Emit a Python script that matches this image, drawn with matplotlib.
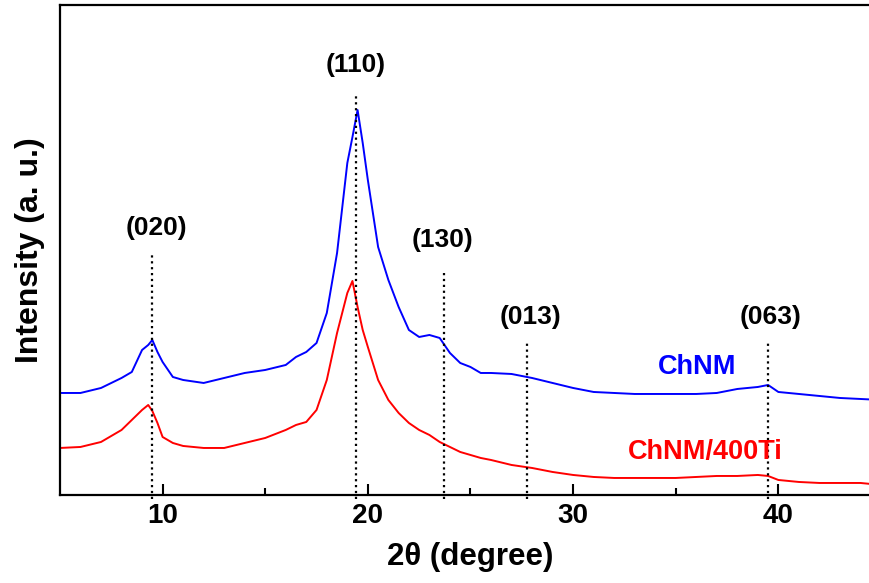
import numpy as np
import matplotlib
matplotlib.use('Agg')
import matplotlib.pyplot as plt

plt.rcParams['font.family'] = ['Liberation Sans', 'DejaVu Sans']
plt.rcParams['font.weight'] = 'bold'

# 2theta positions (degree) and intensities (a.u.) of the two patterns
two_theta = [5, 6, 7, 8, 8.5, 9, 9.3, 9.5, 9.75, 10, 10.5, 11, 12, 13, 14, 15, 16, 16.5,
             17, 17.5, 18, 18.5, 19, 19.25, 19.5, 19.75, 20, 20.5, 21, 21.5, 22, 22.5,
             23, 23.5, 24, 24.5, 25, 25.5, 26, 27, 28, 29, 30, 31, 32, 33, 34, 35, 36,
             37, 38, 39, 39.5, 40, 41, 42, 43, 44, 45]

chnm = [102, 102, 107, 117, 123, 145, 150, 155, 143, 133, 118, 115, 112, 117, 122, 125, 130, 138,
        143, 152, 182, 242, 332, 358, 385, 352, 315, 248, 215, 188, 165, 158,
        160, 157, 142, 132, 128, 122, 122, 121, 117, 112, 107, 103, 102, 101, 101, 101, 101,
        102, 106, 108, 110, 103, 101, 99, 97, 96, 95]

chnm_ti = [47, 48, 53, 65, 75, 85, 90, 84, 72, 58, 52, 49, 47, 47, 52, 57, 65, 70,
           73, 85, 115, 162, 202, 214, 188, 165, 148, 115, 95, 82, 72, 65,
           60, 53, 48, 43, 40, 37, 35, 30, 27, 23, 20, 18, 17, 17, 17, 17, 18,
           19, 19, 20, 19, 15, 13, 12, 12, 12, 10]

# reflections: label, marker position, top of the marker line, label position
planes = ['(020)', '(110)', '(130)', '(013)', '(063)']
plane_pos = [9.47, 19.42, 23.7, 27.75, 39.5]
plane_top = [240, 402, 225, 152, 152]
label_x = [9.72, 19.42, 23.66, 27.94, 39.63]
label_y = [267, 430, 255, 178, 178]

fig = plt.figure(figsize=(8.69, 5.83), dpi=100)
ax = fig.add_axes([0.069, 0.151, 0.9448, 0.8404])

ax.plot(two_theta, chnm, color='#0000FF', lw=1.4)
ax.plot(two_theta, chnm_ti, color='#FF0000', lw=1.4)

for lab, xp, top, lx, ly in zip(planes, plane_pos, plane_top, label_x, label_y):
    ax.plot([xp, xp], [-4, top], color='black', ls=':', lw=1.6, clip_on=False)
    ax.text(lx, ly, lab, ha='center', va='center', fontsize=19, fontweight='bold')

ax.text(36.03, 128, 'ChNM', color='#0000FF', ha='center', va='center',
        fontsize=19.5, fontweight='bold')
ax.text(36.42, 43, 'ChNM/400Ti', color='#FF0000', ha='center', va='center',
        fontsize=19.5, fontweight='bold')

ax.set_xlim(5, 45)
ax.set_ylim(0, 490)
ax.set_xticks([10, 20, 30, 40])
ax.set_xticks([15, 25, 35], minor=True)
ax.set_yticks([])
ax.tick_params(axis='x', which='major', direction='in', length=8, width=1.5,
               labelsize=20, pad=6)
ax.tick_params(axis='x', which='minor', direction='in', length=5, width=1.5)
for s in ax.spines.values():
    s.set_linewidth(1.6)

ax.set_xlabel('2θ (degree)', fontsize=22.5, fontweight='bold', labelpad=9)
ax.set_ylabel('Intensity (a. u.)', fontsize=23, fontweight='bold', labelpad=11)

fig.savefig('out.png', dpi=100)
